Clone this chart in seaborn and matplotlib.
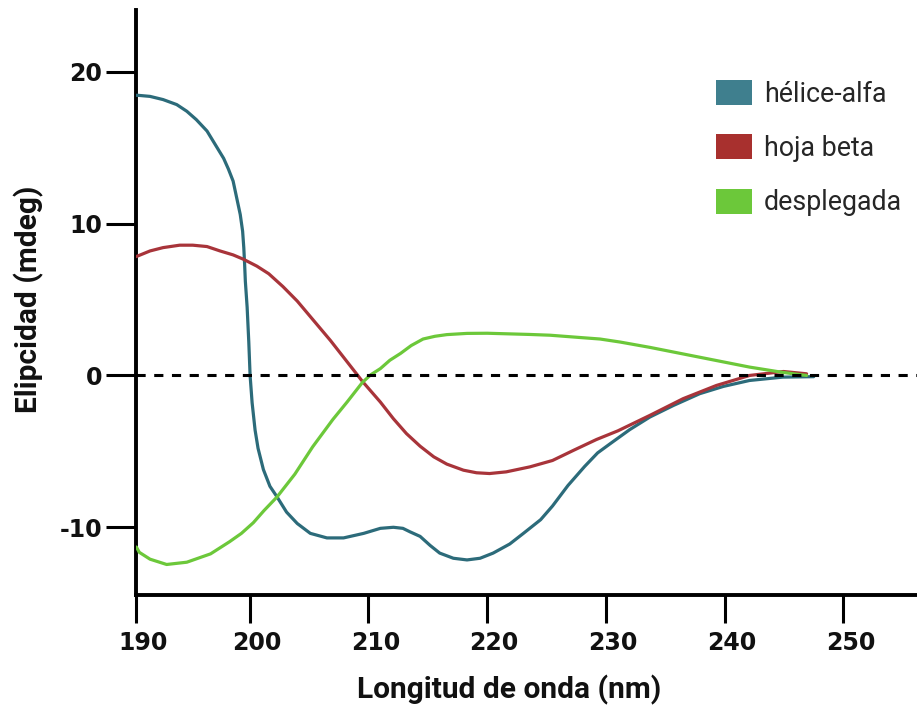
import matplotlib
matplotlib.use("Agg")
import matplotlib.pyplot as plt
import matplotlib.transforms as mtransforms
from matplotlib.patches import Patch
import seaborn as sns
import pandas as pd

# ---- data ----
series_names = ["hélice-alfa", "hoja beta", "desplegada"]

wl_alpha = [190.4, 190.6, 191.6, 192.7, 193.85, 194.7, 195.5, 196.4, 197.1, 197.8,
            198.2, 198.6, 198.9, 199.2, 199.4, 199.5, 199.57, 199.63, 199.78, 199.92,
            200.03, 200.2, 200.45, 200.7, 201.15, 201.7, 202.3, 203.1, 204.0, 205.1,
            206.5, 207.9, 209.6, 211.0, 212.1, 212.9, 213.5, 214.35, 215.2, 216.0,
            217.15, 218.3, 219.4, 220.5, 221.9, 223.05, 224.5, 225.5, 226.8, 228.2,
            229.3, 230.35, 232.0, 233.7, 235.7, 237.9, 239.9, 242.1, 244.9, 247.5]
cd_alpha = [18.45, 18.45, 18.38, 18.17, 17.84, 17.4, 16.85, 16.1, 15.2, 14.3,
            13.6, 12.8, 11.7, 10.6, 9.5, 8.4, 7.3, 6.2, 4.5, 2.2,
            0.0, -1.8, -3.6, -4.8, -6.2, -7.3, -8.0, -9.0, -9.75, -10.4,
            -10.7, -10.7, -10.4, -10.07, -10.0, -10.07, -10.3, -10.6, -11.2, -11.7,
            -12.04, -12.15, -12.04, -11.7, -11.1, -10.4, -9.5, -8.6, -7.25, -6.0,
            -5.1, -4.5, -3.57, -2.74, -1.97, -1.2, -0.72, -0.33, -0.11, -0.08]

wl_beta = [190.4, 190.6, 191.6, 192.7, 194.1, 195.2, 196.4, 197.5, 198.6, 199.45,
           200.6, 201.6, 202.8, 204.0, 205.4, 206.8, 208.2, 209.5, 211.0, 212.1,
           213.2, 214.35, 215.5, 216.6, 218.0, 219.1, 220.2, 221.6, 223.6, 225.5,
           227.3, 229.2, 231.0, 233.7, 236.5, 239.3, 242.1, 244.95, 246.9]
cd_beta = [7.82, 7.88, 8.2, 8.42, 8.58, 8.58, 8.49, 8.2, 7.94, 7.66,
           7.2, 6.7, 5.85, 4.9, 3.6, 2.3, 0.9, -0.4, -1.75, -2.85,
           -3.83, -4.66, -5.36, -5.84, -6.24, -6.41, -6.46, -6.35, -6.02, -5.6,
           -4.92, -4.22, -3.65, -2.63, -1.53, -0.66, 0.0, 0.26, 0.11]

wl_unf = [190.45, 190.7, 191.6, 193.0, 194.7, 196.7, 198.3, 199.3, 200.3, 201.2,
          202.3, 203.8, 205.3, 207.0, 208.2, 209.5, 210.2, 211.0, 211.8, 212.7,
          213.6, 214.6, 215.6, 216.6, 218.3, 220.0, 223.6, 225.3, 227.8, 229.5,
          231.2, 233.7, 237.9, 242.1, 244.9, 246.9]
cd_unf = [-11.3, -11.65, -12.1, -12.45, -12.3, -11.75, -10.95, -10.4, -9.7, -8.9,
          -8.0, -6.5, -4.7, -2.9, -1.75, -0.45, 0.05, 0.45, 1.0, 1.45,
          1.97, 2.4, 2.58, 2.69, 2.77, 2.78, 2.7, 2.65, 2.5, 2.4,
          2.2, 1.85, 1.2, 0.55, 0.2, 0.0]

x_ticks = [190.42, 200, 210, 220, 230, 240, 250]
x_tick_labels = ["190", "200", "210", "220", "230", "240", "250"]
y_ticks = [-10, 0, 10, 20]
y_tick_labels = ["-10", "0", "10", "20"]

line_colors = ["#2c6b7a", "#a8343a", "#6cc83a"]
patch_colors = ["#3f7f8e", "#a8302e", "#6cc83a"]

df = pd.concat([
    pd.DataFrame({"wl": wl_alpha, "cd": cd_alpha, "s": series_names[0]}),
    pd.DataFrame({"wl": wl_beta, "cd": cd_beta, "s": series_names[1]}),
    pd.DataFrame({"wl": wl_unf, "cd": cd_unf, "s": series_names[2]}),
])

sns.set_theme(style="white")
plt.rcParams["font.family"] = ["DejaVu Sans"]

fig = plt.figure(figsize=(9.17, 7.10), dpi=100)
ax = fig.add_axes([136 / 917, 115 / 710, 781 / 917, 585 / 710])

for name, col in zip(series_names, line_colors):
    sub = df[df["s"] == name]
    sns.lineplot(data=sub, x="wl", y="cd", color=col, lw=2.3, ax=ax,
                 legend=False, sort=False, estimator=None, zorder=3)
for ln in ax.lines:
    ln.set_solid_joinstyle("round")
    ln.set_solid_capstyle("round")

ax.axhline(0, color="black", lw=2.2, ls=(0, (3.0, 2.8)), zorder=4)

ax.set_xlim(190.42, 256.2)
ax.set_ylim(-14.46, 24.07)

ax.set_xticks(x_ticks, labels=x_tick_labels)
ax.set_yticks(y_ticks, labels=y_tick_labels)
ax.xaxis.get_major_ticks()[0].tick1line.set_visible(False)

for sp in ["top", "right"]:
    ax.spines[sp].set_visible(False)
for sp in ["left", "bottom"]:
    ax.spines[sp].set_linewidth(2.8)
    ax.spines[sp].set_color("black")

ax.tick_params(axis="x", which="major", direction="out", length=20, width=2.2,
               color="black", pad=6, labelsize=17, bottom=True)
ax.tick_params(axis="y", which="major", direction="out", length=21.5, width=2.2,
               color="black", pad=3, labelsize=17, left=True)
for lab in ax.get_xticklabels() + ax.get_yticklabels():
    lab.set_fontweight("bold")
    lab.set_color("#111111")
offset = mtransforms.ScaledTranslation(7 / 100, 0, fig.dpi_scale_trans)
for lab in ax.get_xticklabels():
    lab.set_transform(lab.get_transform() + offset)

ax.set_xlabel("Longitud de onda (nm)", fontsize=21.5, fontweight="bold",
              family=["Roboto", "DejaVu Sans"], color="#111111")
ax.set_ylabel("Elipcidad (mdeg)", fontsize=21.5, fontweight="bold",
              family=["Roboto", "DejaVu Sans"], color="#111111")
ax.xaxis.set_label_coords((509 - 136) / 781, (595 - 675) / 585)
ax.yaxis.set_label_coords((44 - 136) / 781, (595 - 299) / 585)

handles = [Patch(facecolor=c, edgecolor="none") for c in patch_colors]
fig.legend(handles, series_names, loc="upper left",
           bbox_to_anchor=(716 / 917, 1 - 80 / 710), frameon=False,
           prop={"family": ["Roboto", "DejaVu Sans"], "size": 19.3},
           handlelength=1.34, handleheight=1.05, handletextpad=0.45,
           labelspacing=1.0, borderpad=0, borderaxespad=0)

fig.savefig("out.png", dpi=100)
